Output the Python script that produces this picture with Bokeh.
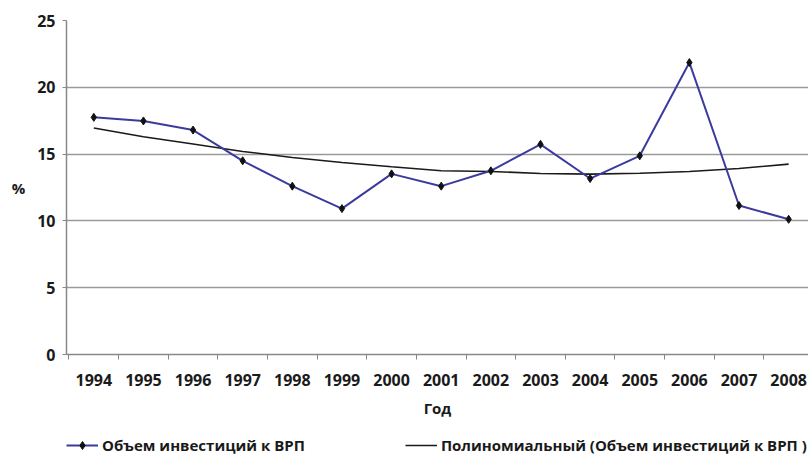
from bokeh.plotting import figure
from bokeh.models import FixedTicker, Legend, LegendItem, Range1d
from bokeh.layouts import column
from bokeh.embed import file_html
from bokeh.resources import INLINE

years = [1994, 1995, 1996, 1997, 1998, 1999, 2000, 2001, 2002, 2003, 2004, 2005, 2006, 2007, 2008]
invest = [17.75, 17.48, 16.8, 14.5, 12.6, 10.92, 13.52, 12.6, 13.75, 15.73, 13.17, 14.87, 21.85, 11.15, 10.12]
trend = [16.95, 16.3, 15.75, 15.2, 14.75, 14.37, 14.05, 13.75, 13.7, 13.55, 13.5, 13.57, 13.7, 13.92, 14.25]
y_ticks = [0, 5, 10, 15, 20, 25]
grid_ticks = [5, 10, 15, 20]
label_invest = "Объем инвестиций к ВРП"
label_trend = "Полиномиальный (Объем инвестиций к ВРП )"
x_title = "Год"
y_title = "%"

FONT = "Open Sans"
BLUE = "#3b3b9e"
DARK = "#1a1a1a"

p = figure(frame_width=742, frame_height=334, output_backend="svg", toolbar_location=None,
           x_range=Range1d(1993.45, 2008.4), y_range=Range1d(0, 25),
           min_border_left=66, min_border_top=20, min_border_right=0, min_border_bottom=70)
p.outline_line_color = None
p.background_fill_color = "white"
p.border_fill_color = "white"

# X axis
xa = p.xaxis[0]
xa.ticker = FixedTicker(ticks=years, minor_ticks=[y - 0.5 for y in years] + [2008.5])
xa.major_tick_out = 0
xa.major_tick_in = 0
xa.minor_tick_out = 5
xa.minor_tick_in = 0
xa.minor_tick_line_color = "#888888"
xa.axis_line_color = "#888888"
xa.axis_line_width = 1.5
xa.major_label_text_font = FONT
xa.major_label_text_font_style = "bold"
xa.major_label_text_font_size = "16px"
xa.major_label_text_color = DARK
xa.major_label_standoff = 14
xa.axis_label = x_title
xa.axis_label_text_font = FONT
xa.axis_label_text_font_style = "bold"
xa.axis_label_text_font_size = "15px"
xa.axis_label_text_color = DARK
xa.axis_label_standoff = 9

# Y axis
ya = p.yaxis[0]
ya.ticker = FixedTicker(ticks=y_ticks)
ya.major_tick_out = 4
ya.major_tick_in = 0
ya.minor_tick_out = 0
ya.minor_tick_in = 0
ya.major_tick_line_color = "#888888"
ya.axis_line_color = "#888888"
ya.axis_line_width = 1.5
ya.major_label_text_font = FONT
ya.major_label_text_font_style = "bold"
ya.major_label_text_font_size = "16px"
ya.major_label_text_color = DARK
ya.major_label_standoff = 7
ya.axis_label = y_title
ya.axis_label_orientation = "horizontal"
ya.axis_label_text_font = FONT
ya.axis_label_text_font_style = "bold"
ya.axis_label_text_font_size = "15px"
ya.axis_label_text_color = DARK
ya.axis_label_standoff = 9

p.xgrid.visible = False
p.ygrid.ticker = FixedTicker(ticks=grid_ticks)
p.ygrid.grid_line_color = "#9a9a9a"
p.ygrid.grid_line_width = 1.5

p.line(years, trend, line_color=DARK, line_width=1.6)
p.line(years, invest, line_color=BLUE, line_width=2)
p.scatter(years, invest, marker="diamond", size=8, fill_color="#111111", line_color="#111111")

# Legend strip below the chart (same series, drawn outside its visible range)
q = figure(width=808, height=40, output_backend="svg", toolbar_location=None,
           x_range=Range1d(0, 1), y_range=Range1d(0, 1),
           min_border=0, x_axis_location=None, y_axis_location=None)
q.outline_line_color = None
q.grid.visible = False
q.background_fill_color = "white"
q.border_fill_color = "white"
lt = q.line(years, trend, line_color=DARK, line_width=1.6)
li = q.line(years, invest, line_color=BLUE, line_width=2)
lp = q.scatter(years, invest, marker="diamond", size=8, fill_color="#111111", line_color="#111111")

legend = Legend(items=[LegendItem(label=label_invest, renderers=[li, lp]),
                       LegendItem(label=label_trend, renderers=[lt])],
                orientation="horizontal", location=(0, 9),
                margin=0, padding=4, spacing=100, glyph_width=32, label_standoff=4,
                label_text_font=FONT, label_text_font_style="bold",
                label_text_font_size="15px", label_text_color=DARK,
                border_line_color=None, background_fill_alpha=0)
q.add_layout(legend, "center")

layout = column(p, q, spacing=0)
open("out.html", "w").write(file_html(layout, INLINE))
